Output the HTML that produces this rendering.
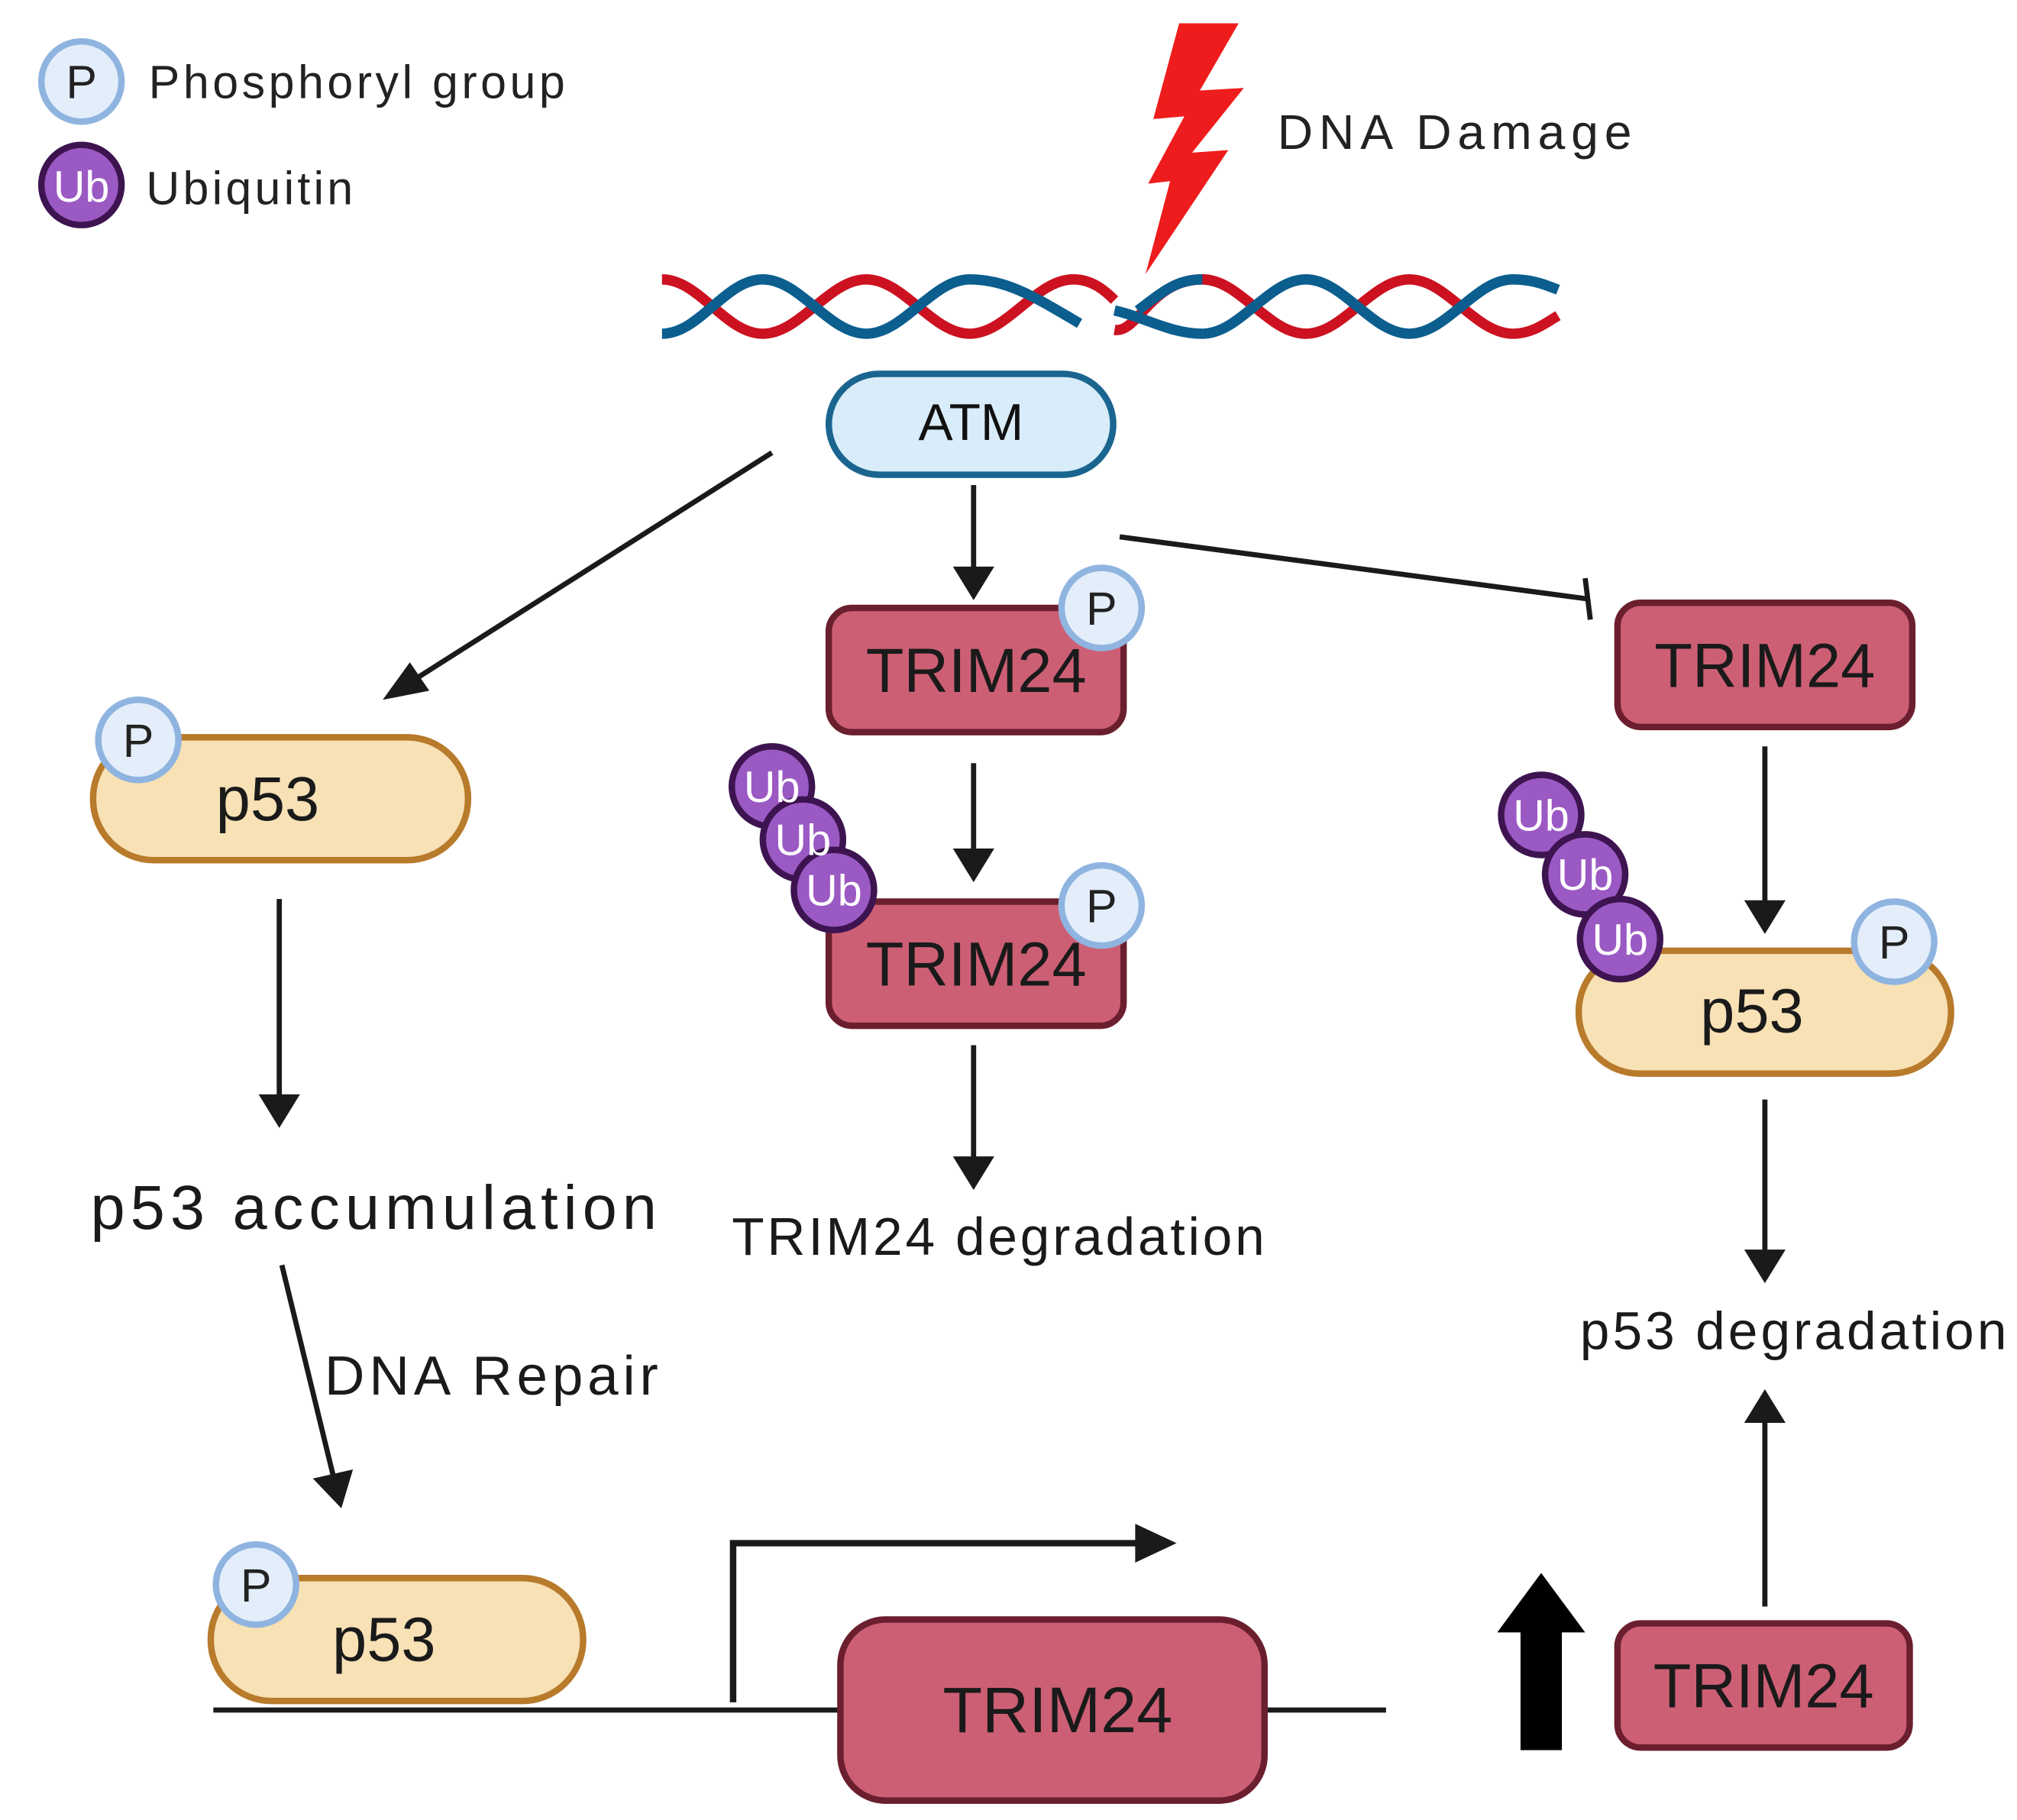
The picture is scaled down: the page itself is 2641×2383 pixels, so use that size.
<!DOCTYPE html>
<html><head><meta charset="utf-8"><style>html,body{margin:0;padding:0;background:#fff}svg{display:block}</style></head><body>
<svg width="2641" height="2383" viewBox="0 0 1560 1407" preserveAspectRatio="none" xmlns="http://www.w3.org/2000/svg" font-family="Liberation Sans, sans-serif">
<rect width="1560" height="1407" fill="#fff"/>
<!-- legend -->
<circle cx="63" cy="63" r="31" fill="#e3eefa" stroke="#8fb4e0" stroke-width="5"/>
<text x="63" y="76" font-size="36" text-anchor="middle" fill="#222">P</text>
<text x="115" y="76" font-size="36" fill="#222" textLength="322">Phosphoryl group</text>
<circle cx="63" cy="143" r="31" fill="#9b59c4" stroke="#3d1450" stroke-width="5"/>
<text x="63" y="156" font-size="34" text-anchor="middle" fill="#fff">Ub</text>
<text x="113" y="158" font-size="36" fill="#222" textLength="160">Ubiquitin</text>
<!-- lightning -->
<polygon points="912,18 958,18 928,70 962,68 922,118 950,116 886,212 905,140 888,142 916,90 892,92" fill="#ee1c1c"/>
<text x="988" y="115" font-size="38" fill="#222" textLength="274">DNA Damage</text>
<!-- DNA -->
<g fill="none" stroke-width="8">
<path d="M512,216 C541,216 561,258 590,258 C619,258 641,216 670,216 C699,216 721,258 750,258 C779,258 801,216 830,216 C845,216 855,225 862,232" stroke="#cc1120"/>
<path d="M512,258 C541,258 561,216 590,216 C619,216 641,258 670,258 C699,258 721,216 750,216 C779,216 801,230 835,250" stroke="#0b5e8e"/>
<path d="M862,255 C880,258 890,216 930,216 C959,216 981,258 1010,258 C1039,258 1061,216 1090,216 C1119,216 1141,258 1170,258 C1185,258 1195,250 1205,244" stroke="#cc1120"/>
<path d="M880,240 C900,225 910,216 930,216 L930,216" stroke="#0b5e8e"/>
<path d="M862,252 C880,250 892,216 930,216 C959,216 981,258 1010,258 C1039,258 1061,216 1090,216 C1119,216 1141,258 1170,258 C1185,258 1195,256 1205,255" stroke="#0b5e8e" opacity="0"/>
<path d="M930,216 C959,216 981,258 1010,258" stroke="#cc1120"/>
<path d="M930,258 C959,258 981,216 1010,216 C1039,216 1061,258 1090,258 C1119,258 1141,216 1170,216 C1185,216 1195,220 1205,224" stroke="#0b5e8e"/>
<path d="M862,240 C885,245 905,258 930,258" stroke="#0b5e8e"/>
</g>
<!-- ATM -->
<rect x="641" y="289" width="220" height="78" rx="39" fill="#d8ecf9" stroke="#1a6590" stroke-width="5"/>
<text x="751" y="340" font-size="40" text-anchor="middle" fill="#111">ATM</text>
<!-- connectors -->
<g stroke="#1a1a1a" stroke-width="4" fill="#1a1a1a">
<line x1="597" y1="350" x2="318" y2="527"/>
<polygon points="296,541 317,512 332,534" stroke="none"/>
<line x1="753" y1="375" x2="753" y2="440"/>
<polygon points="737,438 769,438 753,464" stroke="none"/>
<line x1="866" y1="415" x2="1228" y2="463"/>
<line x1="1226" y1="447" x2="1230" y2="479"/>
<line x1="753" y1="590" x2="753" y2="658"/>
<polygon points="737,656 769,656 753,682" stroke="none"/>
<line x1="1365" y1="577" x2="1365" y2="698"/>
<polygon points="1349,696 1381,696 1365,722" stroke="none"/>
<line x1="216" y1="695" x2="216" y2="848"/>
<polygon points="200,846 232,846 216,872" stroke="none"/>
<line x1="753" y1="808" x2="753" y2="896"/>
<polygon points="737,894 769,894 753,920" stroke="none"/>
<line x1="1365" y1="850" x2="1365" y2="968"/>
<polygon points="1349,966 1381,966 1365,992" stroke="none"/>
<line x1="218" y1="978" x2="258" y2="1142"/>
<polygon points="242,1143 273,1136 264,1166" stroke="none"/>
<line x1="1365" y1="1242" x2="1365" y2="1098"/>
<polygon points="1349,1100 1381,1100 1365,1074" stroke="none"/>
<line x1="165" y1="1322" x2="1072" y2="1322"/>
<polyline points="567,1316 567,1193 885,1193" fill="none" stroke-width="5"/>
<polygon points="878,1178 910,1193 878,1208" stroke="none"/>
<rect x="1176" y="1258" width="32" height="95" stroke="none" fill="#000"/>
<polygon points="1158,1262 1192,1216 1226,1262" stroke="none" fill="#000"/>
</g>
<!-- TRIM24 boxes -->
<g fill="#cd5f74" stroke="#6b1f2e" stroke-width="5">
<rect x="641" y="470" width="228" height="96" rx="18"/>
<rect x="1251" y="466" width="228" height="96" rx="18"/>
<rect x="641" y="697" width="228" height="96" rx="18"/>
<rect x="650" y="1252" width="328" height="140" rx="35"/>
<rect x="1251" y="1255" width="226" height="96" rx="18"/>
</g>
<g font-size="48" text-anchor="middle" fill="#1a1a1a">
<text x="755" y="535">TRIM24</text>
<text x="1365" y="531">TRIM24</text>
<text x="755" y="762">TRIM24</text>
<text x="818" y="1339" font-size="50">TRIM24</text>
<text x="1364" y="1320">TRIM24</text>
</g>
<!-- p53 boxes -->
<g fill="#f7e1b5" stroke="#b87a2b" stroke-width="5">
<rect x="72" y="570" width="290" height="95" rx="47"/>
<rect x="1221" y="735" width="288" height="95" rx="47"/>
<rect x="163" y="1220" width="288" height="95" rx="47"/>
</g>
<g font-size="48" text-anchor="middle" fill="#1a1a1a">
<text x="207" y="634">p53</text>
<text x="1355" y="798">p53</text>
<text x="297" y="1284">p53</text>
</g>
<!-- P circles -->
<g fill="#e3eefa" stroke="#8fb4e0" stroke-width="5">
<circle cx="852" cy="470" r="31"/>
<circle cx="852" cy="700" r="31"/>
<circle cx="107" cy="572" r="31"/>
<circle cx="1465" cy="728" r="31"/>
<circle cx="198" cy="1225" r="31"/>
</g>
<g font-size="36" text-anchor="middle" fill="#222">
<text x="852" y="483">P</text>
<text x="852" y="713">P</text>
<text x="107" y="585">P</text>
<text x="1465" y="741">P</text>
<text x="198" y="1238">P</text>
</g>
<!-- Ub circles -->
<g fill="#9b59c4" stroke="#3d1450" stroke-width="5">
<circle cx="597" cy="608" r="31"/>
<circle cx="621" cy="649" r="31"/>
<circle cx="645" cy="688" r="31"/>
<circle cx="1192" cy="630" r="31"/>
<circle cx="1226" cy="676" r="31"/>
<circle cx="1253" cy="726" r="31"/>
</g>
<g font-size="34" text-anchor="middle" fill="#fff">
<text x="597" y="620">Ub</text>
<text x="621" y="661">Ub</text>
<text x="645" y="700">Ub</text>
<text x="1192" y="642">Ub</text>
<text x="1226" y="688">Ub</text>
<text x="1253" y="738">Ub</text>
</g>
<!-- labels -->
<text x="70" y="950" font-size="48" fill="#1a1a1a" textLength="438">p53 accumulation</text>
<text x="566" y="970" font-size="41" fill="#1a1a1a" textLength="412">TRIM24 degradation</text>
<text x="1222" y="1043" font-size="41" fill="#1a1a1a" textLength="330">p53 degradation</text>
<text x="251" y="1078" font-size="43" fill="#1a1a1a" textLength="258">DNA Repair</text>
</svg>
</body></html>
